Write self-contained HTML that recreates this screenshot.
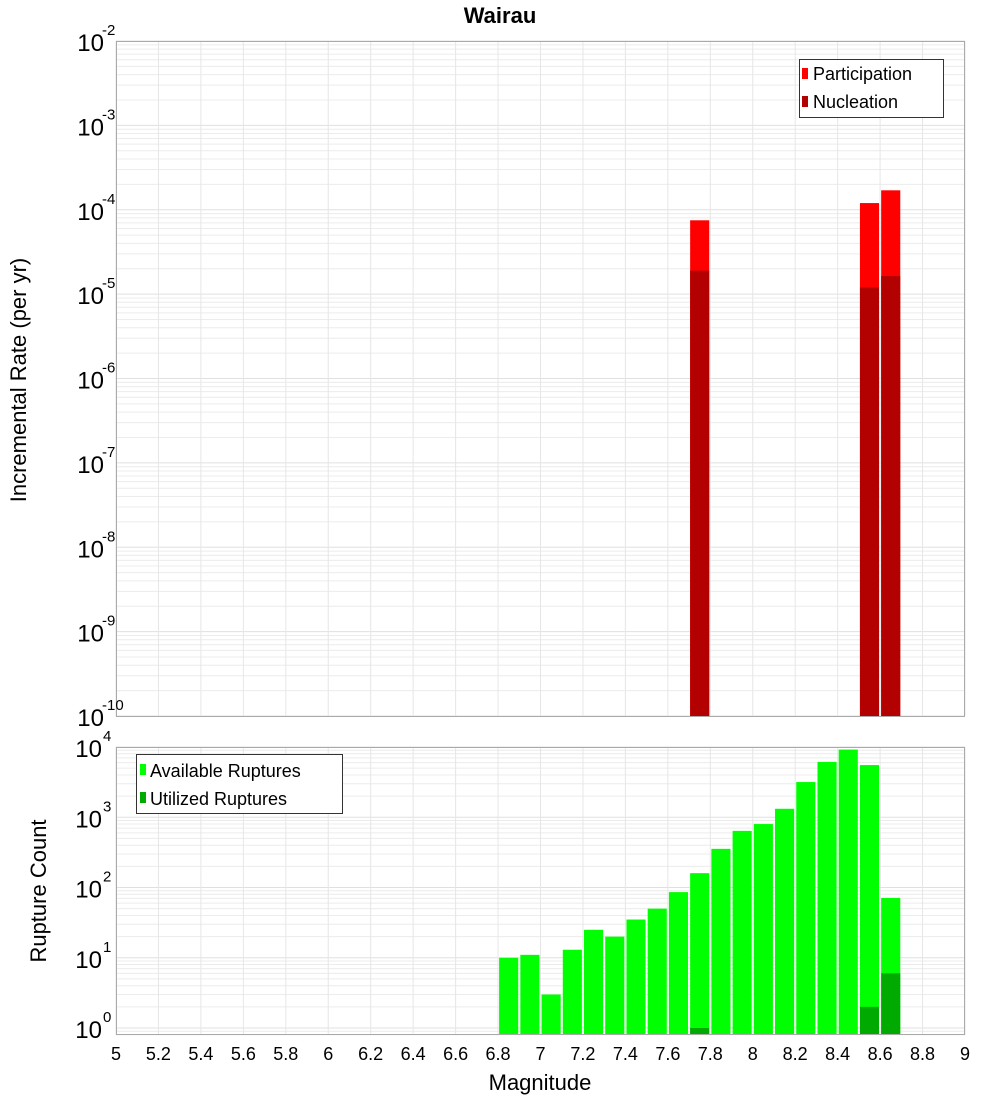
<!DOCTYPE html>
<html><head><meta charset="utf-8"><style>
body{margin:0;background:#fff;}
svg{display:block;font-family:"Liberation Sans","DejaVu Sans",sans-serif;}
</style></head><body>
<svg id="chart" width="1000" height="1100" viewBox="0 0 1000 1100" xmlns="http://www.w3.org/2000/svg">
<rect width="1000" height="1100" fill="#fff"/>
<text x="500" y="23" text-anchor="middle" font-size="22" font-weight="bold">Wairau</text>
<g id="top"></g>
<g id="bot"></g>
<text transform="translate(26,380) rotate(-90)" text-anchor="middle" font-size="22">Incremental Rate (per yr)</text>
<text transform="translate(46,891) rotate(-90)" text-anchor="middle" font-size="22">Rupture Count</text>
<text x="540" y="1090" text-anchor="middle" font-size="22">Magnitude</text>
<g>
<rect x="799.5" y="59.5" width="144" height="58" fill="#fff" stroke="#333"/>
<rect x="802" y="68" width="6" height="11" fill="#ff0000"/>
<text x="813" y="80" font-size="18">Participation</text>
<rect x="802" y="96" width="6" height="11" fill="#b30000"/>
<text x="813" y="108" font-size="18">Nucleation</text>
</g>
<g>
<rect x="136.5" y="754.5" width="206" height="59" fill="#fff" stroke="#333"/>
<rect x="140" y="764" width="6" height="11" fill="#00ff00"/>
<text x="150" y="777" font-size="18">Available Ruptures</text>
<rect x="140" y="792" width="6" height="11" fill="#00aa00"/>
<text x="150" y="805" font-size="18">Utilized Ruptures</text>
</g>
</svg>
<script>
const topMags = [7.75, 8.55, 8.65];
const participation = [7.5e-5, 1.2e-4, 1.7e-4];
const nucleation = [1.9e-5, 1.2e-5, 1.64e-5];
const botMags = [6.85,6.95,7.05,7.15,7.25,7.35,7.45,7.55,7.65,7.75,7.85,7.95,8.05,8.15,8.25,8.35,8.45,8.55,8.65];
const available = [10,11,3,13,25,20,35,50,86,160,355,640,800,1320,3170,6130,9200,5530,71];
const utilized = [0,0,0,0,0,0,0,0,0,1,0,0,0,0,0,0,0,2,6];
const xTicks = ["5","5.2","5.4","5.6","5.8","6","6.2","6.4","6.6","6.8","7","7.2","7.4","7.6","7.8","8","8.2","8.4","8.6","8.8","9"];
const topExps = [-2,-3,-4,-5,-6,-7,-8,-9,-10];
const botExps = [0,1,2,3,4];

const NS="http://www.w3.org/2000/svg";
const X0=116,X1=965;
function xs(m){return X0+(m-5)/4*(X1-X0);}
function yTop(v){return 41+(-2-Math.log10(v))*84.375;}
function yBot(v){return 747+(4-Math.log10(v))*70.25;}
function mk(tag,attrs,parent,text){const e=document.createElementNS(NS,tag);for(const k in attrs)e.setAttribute(k,attrs[k]);if(text!==undefined)e.textContent=text;parent.appendChild(e);return e;}

function panel(g,top,bot,ys,lo,hi){
  mk('rect',{x:X0,y:top,width:X1-X0,height:bot-top,fill:'#fff'},g);
  for(let d=lo;d<hi;d++){for(let k=1;k<10;k++){const y=ys(k*Math.pow(10,d));if(y>=top&&y<=bot){mk('line',{x1:X0,x2:X1,y1:y,y2:y,stroke:k==1?'#e0e0e0':'#ececec','stroke-width':1},g);}}}
  for(let i=0;i<xTicks.length;i++){const x=xs(parseFloat(xTicks[i]));mk('line',{x1:x,x2:x,y1:top,y2:bot,stroke:'#e6e6e6'},g);}
}
const gt=document.getElementById('top');


panel(gt,41,716,yTop,-10,-1);
topMags.forEach((m,i)=>{
  const x=xs(m-0.045),w=xs(m+0.045)-x;
  const r=mk('rect',{x:x,y:yTop(participation[i]),width:w,height:716-yTop(participation[i]),fill:'#ff0000'},gt);
  
  
  const n=mk('rect',{x:x,y:yTop(nucleation[i]),width:w,height:716-yTop(nucleation[i]),fill:'#b30000'},gt);
  
  
});
mk('rect',{x:X0+0.5,y:41.5,width:X1-X0-1,height:675,fill:'none',stroke:'#aaa'},gt);
topExps.forEach(e=>{
  const y=yTop(Math.pow(10,e));
  const t=mk('text',{x:104,y:y+10,'text-anchor':'end','font-size':24},gt,'10');
  
  
  mk('text',{x:102,y:y-6,'font-size':15},gt,String(e));
});
const gb=document.getElementById('bot');


panel(gb,747,1035,yBot,-1,5);
botMags.forEach((m,i)=>{
  const x=xs(m-0.045),w=xs(m+0.045)-x;
  const r=mk('rect',{x:x,y:yBot(available[i]),width:w,height:1035-yBot(available[i]),fill:'#00ff00'},gb);
  
  
  if(utilized[i]>0){
    const u=mk('rect',{x:x,y:yBot(utilized[i]),width:w,height:1035-yBot(utilized[i]),fill:'#00aa00'},gb);
    
    
  }
});
mk('rect',{x:X0+0.5,y:747.5,width:X1-X0-1,height:287,fill:'none',stroke:'#aaa'},gb);
botExps.forEach(e=>{
  const y=yBot(Math.pow(10,e));
  const t=mk('text',{x:102,y:y+10,'text-anchor':'end','font-size':24},gb,'10');
  
  
  mk('text',{x:103,y:y-6,'font-size':15},gb,String(e));
});
xTicks.forEach(s=>{
  const t=mk('text',{x:xs(parseFloat(s)),y:1060,'text-anchor':'middle','font-size':18},gb,s);
  
  
});
</script>
</body></html>
